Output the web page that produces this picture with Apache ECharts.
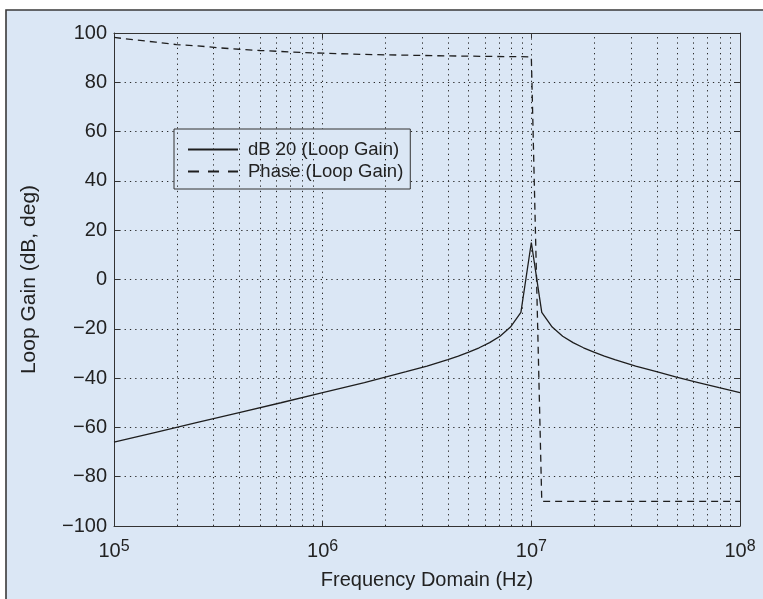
<!DOCTYPE html>
<html><head><meta charset="utf-8">
<script src="https://cdn.jsdelivr.net/npm/echarts@6/dist/echarts.min.js"></script>
<style>html,body{margin:0;padding:0;background:#fff}#c{width:763px;height:599px}</style>
</head><body><div id="c"></div>
<script>
// Frequency samples (Hz)
const gainFreq = [1e5,1.585e5,2.512e5,3.981e5,6.310e5,1e6,1.585e6,2.512e6,3.162e6,3.548e6,3.981e6,4.467e6,5.012e6,5.623e6,6.310e6,7.079e6,7.943e6,8.913e6,1e7,1.122e7,1.259e7,1.413e7,1.585e7,1.778e7,1.995e7,2.239e7,2.512e7,2.818e7,3.162e7,3.981e7,5.012e7,6.310e7,7.943e7,1e8];
// dB 20 (Loop Gain)
const gainDb = [-66,-62,-58,-54,-50,-45.9,-41.8,-37.4,-35.1,-33.8,-32.5,-31.1,-29.5,-27.7,-25.6,-23.0,-19.3,-13.3,15,-13.3,-19.3,-23.0,-25.6,-27.7,-29.5,-31.1,-32.5,-33.8,-35.1,-37.4,-39.7,-41.8,-43.9,-45.9];
// Phase (Loop Gain)
const phaseFreq = [1e5,1.259e5,1.585e5,1.995e5,2.512e5,3.162e5,3.981e5,5.012e5,6.310e5,7.943e5,1e6,1.585e6,2.512e6,3.981e6,6.310e6,8.913e6,1e7,1.122e7,3e7,1e8];
const phaseDeg = [98.2,97.2,96.3,95.3,94.8,94.0,93.4,92.9,92.5,92.1,91.8,91.3,91.0,90.7,90.5,90.4,90.3,-90,-90,-90];
// minor log grid positions
const minorTicks = [2e5,3e5,4e5,5e5,6e5,7e5,8e5,9e5,2e6,3e6,4e6,5e6,6e6,7e6,8e6,9e6,2e7,3e7,4e7,5e7,6e7,7e7,8e7,9e7];
const yTicks = {min:-100, max:100, interval:20};

const FONT = '"Liberation Sans", Arial, sans-serif';
const TXT = '#222';
const AX = '#333';
const BG = '#dbe7f5';
const dotted = {color:'#2a2a2a', width:1, type:[1.3,4]};

const chart = echarts.init(document.getElementById('c'), null, {renderer:'canvas'});
const zip = (a,b)=>a.map((v,i)=>[v,b[i]]);

const xBase = {
  type:'log', logBase:10, min:1e5, max:1e8, splitNumber:3,
  axisLine:{show:true, onZero:false, lineStyle:{color:AX, width:1}},
  axisTick:{show:true, inside:true, length:5, lineStyle:{color:AX}},
};
const yBase = {
  type:'value', min:yTicks.min, max:yTicks.max, interval:yTicks.interval,
  axisLine:{show:true, onZero:false, lineStyle:{color:AX, width:1}},
  axisTick:{show:true, inside:true, length:6, lineStyle:{color:AX}},
};

chart.setOption({
  backgroundColor:'#fff',
  animation:false,
  textStyle:{fontFamily:FONT},
  graphic:[{type:'rect', z:-10, silent:true, shape:{x:6,y:10,width:800,height:650},
    style:{fill:BG, stroke:'#3a3a3a', lineWidth:1.6}}],
  grid:{left:114, right:23, top:33, bottom:73, containLabel:false},
  legend:{
    orient:'vertical', left:174, top:129, padding:[11,7,8,13],
    backgroundColor:BG, borderColor:'#333', borderWidth:1, borderRadius:0,
    itemWidth:50, itemHeight:14, itemGap:3,
    itemStyle:{opacity:0},
    textStyle:{fontFamily:FONT, fontSize:18.5, color:TXT, padding:[0,0,0,5]},
    data:[{name:'dB 20 (Loop Gain)'},
          {name:'Phase (Loop Gain)', lineStyle:{type:[11,9]}}]
  },
  xAxis:[
    Object.assign({}, xBase, {
      position:'bottom',
      name:'Frequency Domain (Hz)', nameLocation:'middle', nameGap:44,
      nameTextStyle:{fontFamily:FONT, fontSize:20, color:TXT},
      splitLine:{show:true, lineStyle:dotted},
      axisLabel:{show:true, margin:14, showMinLabel:true, showMaxLabel:true,
        formatter:v=>'{b|10}{s|'+Math.round(Math.log10(v))+'}',
        rich:{b:{fontFamily:FONT,fontSize:20,color:TXT,lineHeight:22},
              s:{fontFamily:FONT,fontSize:16,color:TXT,lineHeight:22,padding:[0,0,8,0]}}}
    }),
    Object.assign({}, xBase, {position:'top', axisLabel:{show:false}, splitLine:{show:false}})
  ],
  yAxis:[
    Object.assign({}, yBase, {
      position:'left',
      name:'Loop Gain (dB, deg)', nameLocation:'middle', nameGap:74,
      nameTextStyle:{fontFamily:FONT, fontSize:21, color:TXT},
      splitLine:{show:true, lineStyle:dotted},
      axisLabel:{show:true, margin:7, fontFamily:FONT, fontSize:20, color:TXT,
        formatter:v=>String(v).replace('-','\u2212')}
    }),
    Object.assign({}, yBase, {position:'right', axisLabel:{show:false}, splitLine:{show:false}})
  ],
  series:[
    {name:'dB 20 (Loop Gain)', type:'line', data:zip(gainFreq,gainDb), symbol:'none',
     lineStyle:{color:'#1e1e1e', width:1.3}, itemStyle:{color:'#1e1e1e'}, z:5,
     markLine:{silent:true, symbol:'none', label:{show:false}, animation:false,
       lineStyle:{color:'#2a2a2a', width:1, type:[1.3,4]},
       data:minorTicks.map(v=>({xAxis:v}))}},
    {name:'Phase (Loop Gain)', type:'line', data:zip(phaseFreq,phaseDeg), symbol:'none',
     lineStyle:{color:'#1e1e1e', width:1.3, type:[7,5]}, itemStyle:{color:'#1e1e1e'}, z:5}
  ]
});
</script></body></html>
